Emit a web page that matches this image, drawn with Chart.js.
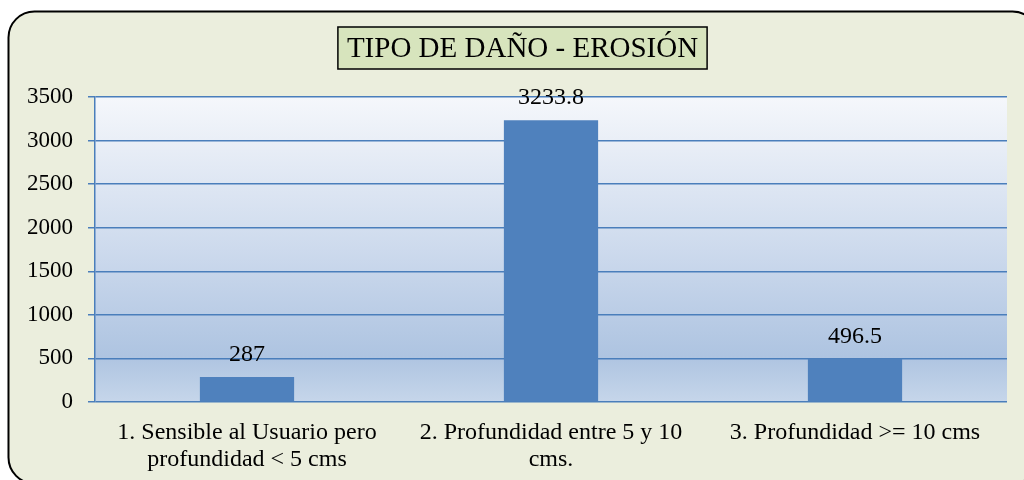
<!DOCTYPE html>
<html>
<head>
<meta charset="utf-8">
<script src="https://cdn.jsdelivr.net/npm/chart.js@4.4.1/dist/chart.umd.min.js"></script>
<style>
  html, body { margin: 0; padding: 0; background: #ffffff; }
  #wrap { width: 1024px; height: 480px; position: relative; }
</style>
</head>
<body>
<div id="wrap"><canvas id="chart"></canvas></div>
<script>
// data
const categories = [
    ['1. Sensible al Usuario pero', 'profundidad < 5 cms'],
    ['2. Profundidad entre 5 y 10', 'cms.'],
    ['3. Profundidad >= 10 cms']
];
const valores = [287, 3233.8, 496.5];
const yTicks = [0, 500, 1000, 1500, 2000, 2500, 3000, 3500];
const titulo = 'TIPO DE DAÑO - EROSIÓN';

const SERIF = '"Liberation Serif", "DejaVu Serif", serif';

// outer panel with rounded border + plot area gradient
const backgroundPlugin = {
    id: 'panelBackground',
    beforeDraw(chart) {
        const ctx = chart.ctx;
        const area = chart.chartArea;
        ctx.save();
        ctx.beginPath();
        ctx.roundRect(8.5, 11.5, 1030, 472, 26);
        ctx.fillStyle = '#EBEEDD';
        ctx.fill();
        ctx.lineWidth = 2;
        ctx.strokeStyle = '#000000';
        ctx.stroke();

        const grad = ctx.createLinearGradient(0, area.top, 0, area.bottom);
        grad.addColorStop(0, '#F5F7FB');
        grad.addColorStop(0.5, '#CDDAED');
        grad.addColorStop(0.85, '#AEC4E1');
        grad.addColorStop(1, '#C6D6EA');
        ctx.fillStyle = grad;
        ctx.fillRect(area.left, area.top, area.right - area.left, area.bottom - area.top);
        ctx.restore();
    }
};

// title inside a framed box
const titleBoxPlugin = {
    id: 'titleBox',
    afterDraw(chart) {
        const ctx = chart.ctx;
        ctx.save();
        ctx.font = '29px ' + SERIF;
        const w = ctx.measureText(titulo).width;
        const cx = 522.5;
        const cy = 48;
        const boxW = w + 18;
        const boxH = 42;
        ctx.fillStyle = '#D7E4BD';
        ctx.fillRect(cx - boxW / 2, cy - boxH / 2, boxW, boxH);
        ctx.lineWidth = 1.5;
        ctx.strokeStyle = '#000000';
        ctx.strokeRect(cx - boxW / 2, cy - boxH / 2, boxW, boxH);
        ctx.fillStyle = '#000000';
        ctx.textAlign = 'center';
        ctx.textBaseline = 'middle';
        ctx.fillText(titulo, cx, cy + 1);
        ctx.restore();
    }
};

// value labels above bars
const valueLabelPlugin = {
    id: 'valueLabels',
    afterDatasetsDraw(chart) {
        const ctx = chart.ctx;
        const meta = chart.getDatasetMeta(0);
        ctx.save();
        ctx.font = '24px ' + SERIF;
        ctx.fillStyle = '#000000';
        ctx.textAlign = 'center';
        ctx.textBaseline = 'middle';
        meta.data.forEach((bar, i) => {
            ctx.fillText(String(valores[i]), bar.x, bar.y - 22);
        });
        ctx.restore();
    }
};

const ctx = document.getElementById('chart');

new Chart(ctx, {
    type: 'bar',
    data: {
        labels: categories,
        datasets: [{
            label: 'Erosión',
            data: valores,
            backgroundColor: '#4F81BD',
            borderWidth: 0,
            barPercentage: 0.31,
            categoryPercentage: 1
        }]
    },
    options: {
        responsive: true,
        maintainAspectRatio: false,
        animation: false,
        layout: {
            padding: { left: 0, right: 17, top: 97, bottom: 0 }
        },
        plugins: {
            legend: { display: false },
            title: { display: false },
            tooltip: { enabled: false }
        },
        scales: {
            x: {
                grid: { display: false, drawTicks: false },
                border: { display: false },
                ticks: {
                    color: '#000000',
                    font: { family: SERIF, size: 24, lineHeight: 1.12 },
                    padding: 17,
                    maxRotation: 0,
                    autoSkip: false
                },
                afterFit(scale) { scale.height = 78; }
            },
            y: {
                min: 0,
                max: 3500,
                afterBuildTicks(scale) {
                    scale.ticks = yTicks.map(v => ({ value: v }));
                },
                grid: {
                    color: '#4A7EBB',
                    lineWidth: 1.5,
                    tickLength: 7
                },
                border: { display: true, color: '#4A7EBB', width: 1.5 },
                ticks: {
                    color: '#000000',
                    font: { family: SERIF, size: 23 },
                    padding: 15,
                    callback: v => String(v)
                },
                afterFit(scale) { scale.width = 95; }
            }
        }
    },
    plugins: [backgroundPlugin, titleBoxPlugin, valueLabelPlugin]
});
</script>
</body>
</html>
